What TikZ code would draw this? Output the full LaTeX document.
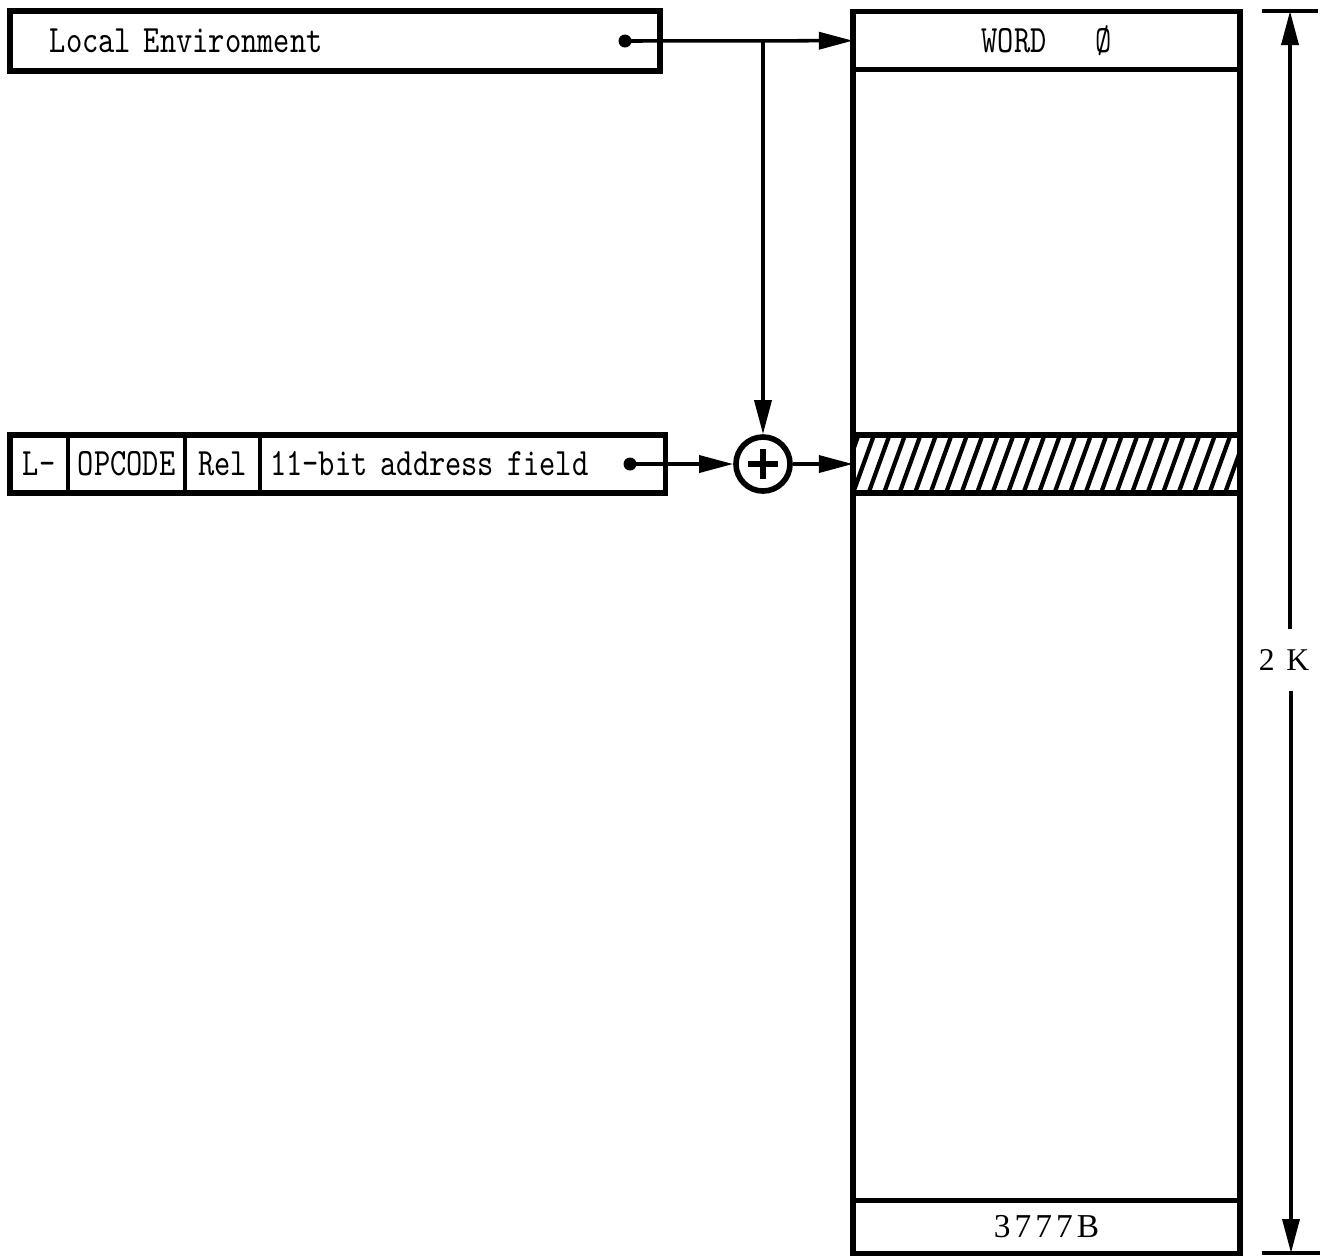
\documentclass[tikz,border=0pt]{standalone}
\usepackage{fontspec}
\newfontfamily\typefont[FakeStretch=0.8]{Latin Modern Mono}
\newfontfamily\serifnum[LetterSpace=12]{Liberation Serif}
\usetikzlibrary{positioning,arrows.meta}

\begin{document}
\begin{tikzpicture}[
        x=0.01cm, y=-0.01cm,
        node distance=0pt,
        every node/.style={font=\typefont\fontsize{11}{12}\selectfont},
        box/.style={draw, line width=1.6pt, minimum height=0.6cm, inner ysep=0pt, outer sep=0pt},
        field/.style={draw, line width=1.1pt, minimum height=0.58cm, inner xsep=0.05cm, inner ysep=0pt, outer sep=0pt},
        cell/.style={draw, line width=1.5pt, minimum width=3.87cm, inner sep=0pt, outer sep=0pt},
        dot/.style={circle, fill, inner sep=0pt, minimum size=0.13cm},
        adder/.style={circle, draw, line width=1.6pt, minimum size=0.54cm, inner sep=0pt},
        arrow/.style={-{Triangle[length=0.34cm,width=0.17cm]}, line width=1pt},
        hatchline/.style={line width=1.2pt},
        tick/.style={line width=1.3pt}
    ]
        \useasboundingbox (0,0) rectangle (1330,1256);

        % Local environment register
        \node[box, text width=5.7cm, inner xsep=0.4cm, align=left] (localenv) at (335,41) {Local Environment};
        \node[dot] (envdot) at (625,41) {};

        % Instruction word
        \node[field, minimum width=0.58cm, anchor=west] (lfield) at (10,464) {L-};
        \node[field, minimum width=1.17cm, right=of lfield] (opfield) {OPCODE};
        \node[field, minimum width=0.75cm, right=of opfield] (relfield) {Rel};
        \node[field, text width=3.85cm, inner xsep=0.1cm, align=left, right=of relfield] (addrfield) {11-bit address field};
        \draw[line width=1.6pt] (lfield.north west) rectangle (addrfield.south east);
        \node[dot] (addrdot) at (630,464) {};

        % Adder
        \node[adder] (adder) at (763,464) {};
        \draw[line width=1.6pt] ([xshift=-0.15cm]adder.center) -- ([xshift=0.15cm]adder.center)
            ([yshift=-0.15cm]adder.center) -- ([yshift=0.15cm]adder.center);

        % Memory block
        \node[cell, minimum height=12.41cm] (memory) at (1046.5,632.5) {};
        \node[cell, minimum height=0.58cm, anchor=north] (word0) at (memory.north) {WORD\ \ \ Ø};
        \node[cell, minimum height=0.53cm, anchor=south, font=\serifnum\fontsize{9.5}{11}\selectfont] (lastword) at (memory.south) {3777B};
        \node[cell, minimum height=0.58cm] (slot) at (1046.5,464) {};
        \begin{scope}
            \clip (slot.south west) rectangle (slot.north east);
            \foreach \k in {-2,...,26} {
                \draw[hatchline] (853+\k*15.5,493) -- ++(21,-58);
            }
        \end{scope}

        % Connectors
        \coordinate (junction) at (763,41);
        \draw[arrow] (envdot.center) -- (word0.west);
        \draw[arrow] (junction) -- (adder.north);
        \draw[arrow] (addrdot.center) -- (adder.west);
        \draw[arrow] (adder.east) -- (slot.west);

        % Size of the block
        \coordinate (toptick) at (1290,11);
        \coordinate (bottick) at (1291,1253);
        \draw[tick] ([xshift=-0.28cm]toptick) -- ([xshift=0.28cm]toptick);
        \draw[tick] ([xshift=-0.29cm]bottick) -- ([xshift=0.29cm]bottick);
        \node[minimum height=0.6cm, inner sep=0pt, font=\serifnum\fontsize{9}{10}\selectfont] (size) at (1284,660) {2 K};
        \draw[arrow] (size.north -| toptick) -- (toptick);
        \draw[arrow] (size.south -| bottick) -- (bottick);
    \end{tikzpicture}
\end{document}
